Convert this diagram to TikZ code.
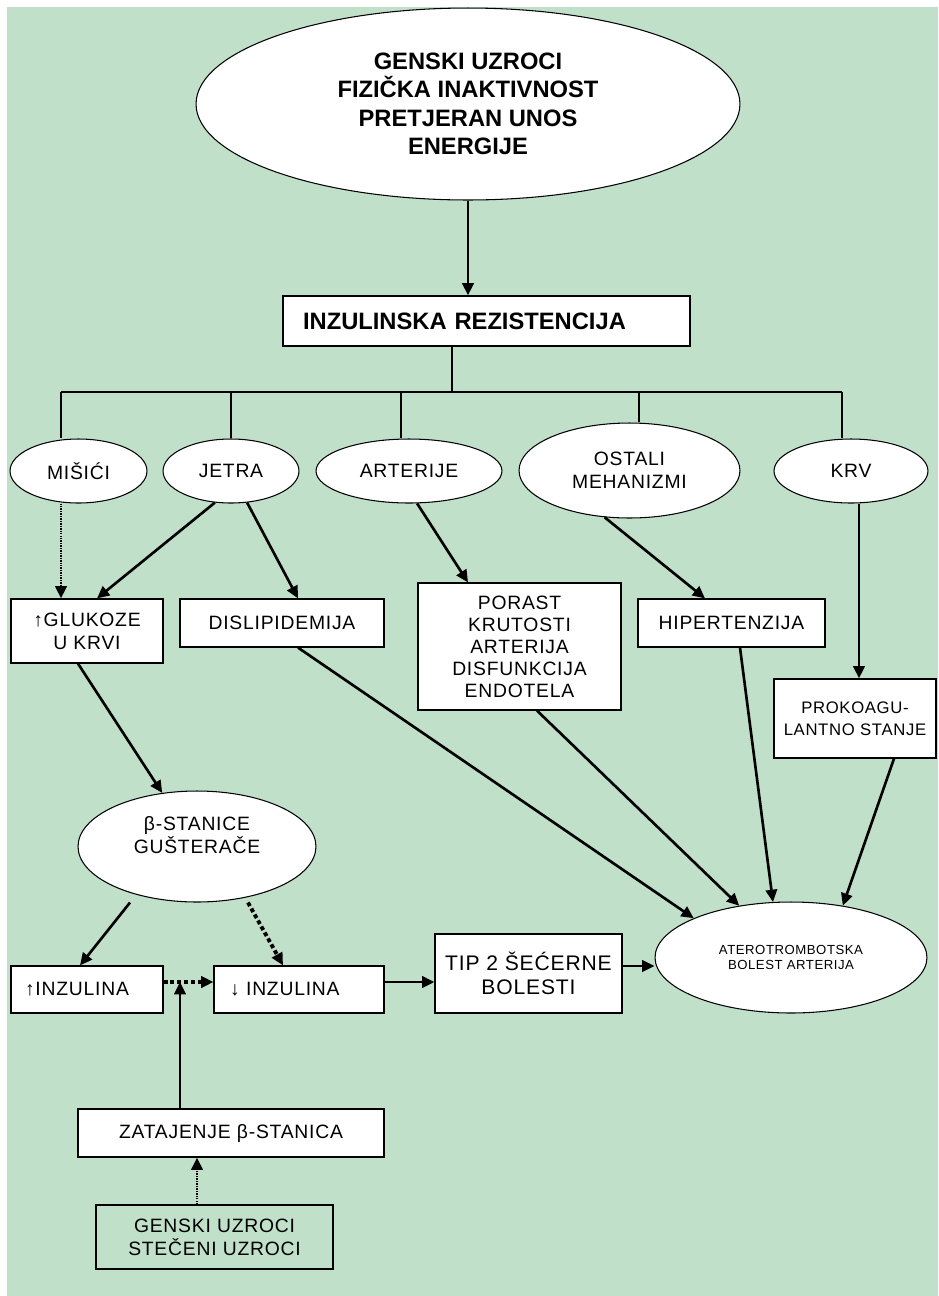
\documentclass[tikz,border=0pt]{standalone}
\usepackage{fontspec}
\setmainfont{Liberation Sans}[LetterSpace=4]
\newfontfamily\naslovfont{Liberation Sans}
\usetikzlibrary{arrows.meta,shapes.geometric}
\definecolor{pozadina}{RGB}{193,224,201}

\begin{document}
\begin{tikzpicture}[x=0.02cm, y=-0.02cm,
  okvir/.style={draw, fill=white, line width=0.7pt, inner sep=0pt, align=center, font=\fontsize{11}{13}\selectfont},
  oval/.style={ellipse, draw, fill=white, line width=0.6pt, inner sep=0pt, align=center, font=\fontsize{11}{13}\selectfont},
  strel/.style={line width=1.5pt, -{Triangle[length=7pt,width=6.5pt]}},
  tockice/.style={strel, dash pattern=on 0.8pt off 0.6pt},
  kvadrati/.style={strel, line width=2.2pt, dash pattern=on 2.3pt off 1.6pt},
  grana/.style={line width=0.6pt}]
\useasboundingbox (0,0) rectangle (938,1296);
\fill[pozadina] (7,7) rectangle (938,1296);

% uzroci i rezistencija
\node[oval, minimum width=10.88cm, minimum height=3.84cm, font=\naslovfont\bfseries\fontsize{13.5}{16.2}\selectfont] (uzroci) at (468,104) {GENSKI UZROCI\\FIZIČKA INAKTIVNOST\\PRETJERAN UNOS\\ENERGIJE};
\node[okvir, align=left, text width=7.34cm, inner xsep=0.4cm, minimum height=1cm, font=\naslovfont\bfseries\fontsize{13.5}{16}\selectfont] (rez) at (486.5,321) {INZULINSKA REZISTENCIJA};
\draw[strel] (uzroci.south) -- (uzroci.south |- rez.north);

% organi
\node[oval, minimum width=2.74cm, minimum height=1.28cm] (misici) at (78.5,471) {MIŠIĆI};
\node[oval, minimum width=2.72cm, minimum height=1.28cm] (jetra) at (231,471) {JETRA};
\node[oval, minimum width=3.72cm, minimum height=1.28cm] (arterije) at (409,471) {ARTERIJE};
\node[oval, minimum width=4.42cm, minimum height=1.9cm] (ostali) at (629.5,470.5) {OSTALI\\MEHANIZMI};
\node[oval, minimum width=3.08cm, minimum height=1.28cm] (krv) at (851,471) {KRV};

\coordinate (r0) at (452,392);
\coordinate (b1) at (61,392);
\coordinate (b2) at (231,392);
\coordinate (b3) at (401,392);
\coordinate (b4) at (639,392);
\coordinate (b5) at (842,392);
\draw[grana] (rez.south -| r0) -- (r0);
\draw[grana] (b1) -- (b5);
\draw[grana] (b1) -- (b1 |- misici.north);
\draw[grana] (b2) -- (jetra.north);
\draw[grana] (b3) -- (b3 |- arterije.north);
\draw[grana] (b4) -- (b4 |- ostali.north);
\draw[grana] (b5) -- (b5 |- krv.north);

% posljedice
\node[okvir, minimum width=3.04cm, minimum height=1.28cm] (glukoza) at (87,631) {↑GLUKOZE\\U KRVI};
\node[okvir, minimum width=4.08cm, minimum height=0.96cm] (dislip) at (282,623) {DISLIPIDEMIJA};
\node[okvir, minimum width=4.06cm, minimum height=2.54cm, font=\fontsize{11}{12.5}\selectfont] (porast) at (519.5,646.5) {PORAST\\KRUTOSTI\\ARTERIJA\\DISFUNKCIJA\\ENDOTELA};
\node[okvir, minimum width=3.74cm, minimum height=0.96cm] (hiper) at (731.5,623) {HIPERTENZIJA};
\node[okvir, minimum width=3.24cm, minimum height=1.58cm, font=\fontsize{9.5}{12.5}\selectfont] (prokoag) at (855,718.5) {PROKOAGU-\\LANTNO STANJE};

\draw[tockice] (b1 |- misici.south) -- (b1 |- glukoza.north);
\draw[strel] (jetra.243) -- ([xshift=0.2cm]glukoza.north);
\draw[strel] (jetra.297) -- ([xshift=0.32cm]dislip.north);
\draw[strel] (arterije.284) -- ([xshift=-1.03cm]porast.north);
\draw[strel] (ostali.242) -- ([xshift=-0.53cm]hiper.north);
\draw[strel] ([xshift=0.16cm]krv.south) -- ([xshift=0.16cm]krv.south |- prokoag.north);

% gusteraca
\node[oval, minimum width=4.76cm, minimum height=2.22cm] (beta) at (197,846.5) {β-STANICE\\GUŠTERAČE\\~};
\node[okvir, align=left, text width=2.48cm, inner xsep=0.28cm, minimum height=0.94cm] (inzup) at (87,989.5) {↑INZULINA};
\node[okvir, align=left, text width=2.76cm, inner xsep=0.32cm, minimum height=0.94cm] (inzdown) at (299,989.5) {↓ INZULINA};
\node[okvir, minimum width=3.74cm, minimum height=1.58cm, font=\fontsize{12}{14}\selectfont] (tip) at (528.5,973.5) {TIP 2 ŠEĆERNE\\BOLESTI};
\node[oval, minimum width=5.44cm, minimum height=2.22cm, font=\fontsize{7.5}{9}\selectfont] (atero) at (791,957.5) {ATEROTROMBOTSKA\\BOLEST ARTERIJA};
\node[okvir, minimum width=6.12cm, minimum height=0.96cm] (zatajenje) at (231,1133) {ZATAJENJE β-STANICA};
\node[okvir, fill=none, minimum width=4.74cm, minimum height=1.28cm] (genski) at (214.5,1237) {GENSKI UZROCI\\STEČENI UZROCI};
\coordinate (spoj) at (180,982);

\draw[strel] ([xshift=-0.18cm]glukoza.south) -- (beta.123);
\draw[strel] ([xshift=-1.34cm]beta.south) -- ([xshift=-0.14cm]inzup.north);
\draw[kvadrati] ([xshift=1.02cm]beta.south) -- ([xshift=-0.32cm]inzdown.north);
\draw[kvadrati] ([yshift=0.15cm]inzup.east) -- ([yshift=0.15cm]inzdown.west);
\draw[strel] (zatajenje.north -| spoj) -- (spoj);
\draw[tockice] ([xshift=-0.35cm]genski.north) -- ([xshift=-0.35cm]genski.north |- zatajenje.south);
\draw[strel] ([yshift=0.15cm]inzdown.east) -- ([yshift=0.15cm]inzdown.east -| tip.west);
\draw[strel] ([yshift=0.15cm]tip.east) -- ([yshift=0.15cm]tip.east -| atero.west);

% prema aterotrombozi
\draw[strel] ([xshift=0.32cm]dislip.south) -- (atero.158);
\draw[strel] ([xshift=0.35cm]porast.south) -- (atero.135);
\draw[strel] ([xshift=0.17cm]hiper.south) -- (atero.108);
\draw[strel] ([xshift=0.78cm]prokoag.south) -- (atero.45);
\end{tikzpicture}
\end{document}
